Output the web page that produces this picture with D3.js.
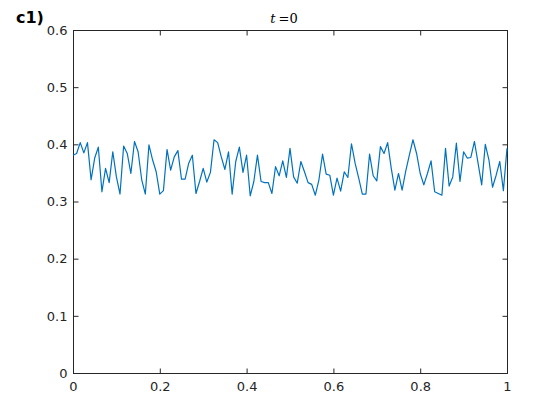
<!DOCTYPE html>
<html><head><meta charset="utf-8">
<script src="https://cdn.jsdelivr.net/npm/d3@7"></script>
<style>body{margin:0;background:#fff;} svg{display:block;}</style>
</head><body>
<svg id="c" width="560" height="420"></svg>
<script>
const values = [0.381,0.384,0.403,0.385,0.403,0.338,0.376,0.395,0.317,0.358,
0.333,0.387,0.343,0.313,0.397,0.384,0.349,0.405,0.387,0.338,
0.313,0.399,0.373,0.352,0.313,0.319,0.391,0.355,0.378,0.389,
0.339,0.339,0.367,0.381,0.314,0.335,0.358,0.334,0.351,0.408,
0.403,0.378,0.356,0.387,0.313,0.370,0.395,0.351,0.381,0.310,
0.335,0.381,0.335,0.333,0.333,0.314,0.361,0.345,0.371,0.342,
0.393,0.343,0.332,0.370,0.352,0.333,0.330,0.311,0.338,0.383,
0.348,0.346,0.311,0.341,0.318,0.352,0.342,0.401,0.367,0.341,
0.313,0.313,0.383,0.345,0.336,0.396,0.384,0.403,0.358,0.320,
0.349,0.320,0.353,0.381,0.408,0.384,0.349,0.329,0.349,0.371,
0.317,0.314,0.311,0.393,0.327,0.343,0.402,0.335,0.387,0.376,
0.377,0.405,0.367,0.329,0.400,0.373,0.325,0.346,0.370,0.319,
0.393];
const xTicks = [0,0.2,0.4,0.6,0.8,1];
const yTicks = [0,0.1,0.2,0.3,0.4,0.5,0.6];
const xTickLabels = ["0","0.2","0.4","0.6","0.8","1"];
const yTickLabels = ["0","0.1","0.2","0.3","0.4","0.5","0.6"];
const panelLabel = "c1)";

const svg = d3.select("#c");
const L=73,R=507,T=30,B=373;
const x = d3.scaleLinear().domain([0,1]).range([L,R]);
const y = d3.scaleLinear().domain([0,0.6]).range([B,T]);
const n = values.length;
const data = values.map((v,i)=>({x:i/(n-1), y:v}));

const axCol = "#262626";
const font = "DejaVu Sans, sans-serif";

// box
svg.append("rect").attr("x",L+0.5).attr("y",T+0.5).attr("width",R-L).attr("height",B-T)
  .attr("fill","none").attr("stroke",axCol).attr("stroke-width",1);

// bottom axis
const gx = svg.append("g").attr("transform",`translate(0,${B+0.5})`)
  .call(d3.axisBottom(x).tickValues(xTicks).tickFormat((d,i)=>xTickLabels[i]).tickSizeInner(-5).tickSizeOuter(0).tickPadding(8));
const gxt = svg.append("g").attr("transform",`translate(0,${T+0.5})`)
  .call(d3.axisTop(x).tickValues(xTicks).tickFormat("").tickSizeInner(-5).tickSizeOuter(0));
const gy = svg.append("g").attr("transform",`translate(${L+0.5},0)`)
  .call(d3.axisLeft(y).tickValues(yTicks).tickFormat((d,i)=>yTickLabels[i]).tickSizeInner(-5).tickSizeOuter(0).tickPadding(6));
const gyr = svg.append("g").attr("transform",`translate(${R+0.5},0)`)
  .call(d3.axisRight(y).tickValues(yTicks).tickFormat("").tickSizeInner(-5).tickSizeOuter(0));
[gx,gxt,gy,gyr].forEach(g=>{
  g.select(".domain").remove();
  g.selectAll("line").attr("stroke",axCol);
  g.selectAll("text").attr("fill",axCol).style("font-family",font).style("font-size","13px");
});

// line
svg.append("path").datum(data)
  .attr("fill","none").attr("stroke","#0072BD").attr("stroke-width",1.2)
  .attr("stroke-linejoin","round")
  .attr("d", d3.line().x(d=>x(d.x)).y(d=>y(d.y)));

// title
const title = svg.append("text").attr("x",284).attr("y",23).attr("text-anchor","middle")
  .style("font-family","'DejaVu Serif', 'Liberation Serif', serif").style("font-size","13px").attr("fill","#000");
title.append("tspan").style("font-style","italic").text("t");
title.append("tspan").attr("dx",3).text("=0");

// panel label
svg.append("text").attr("x",16).attr("y",23).style("font-family",font)
  .style("font-size","16px").style("font-weight","bold").attr("fill","#000").text(panelLabel);
</script>
</body></html>
